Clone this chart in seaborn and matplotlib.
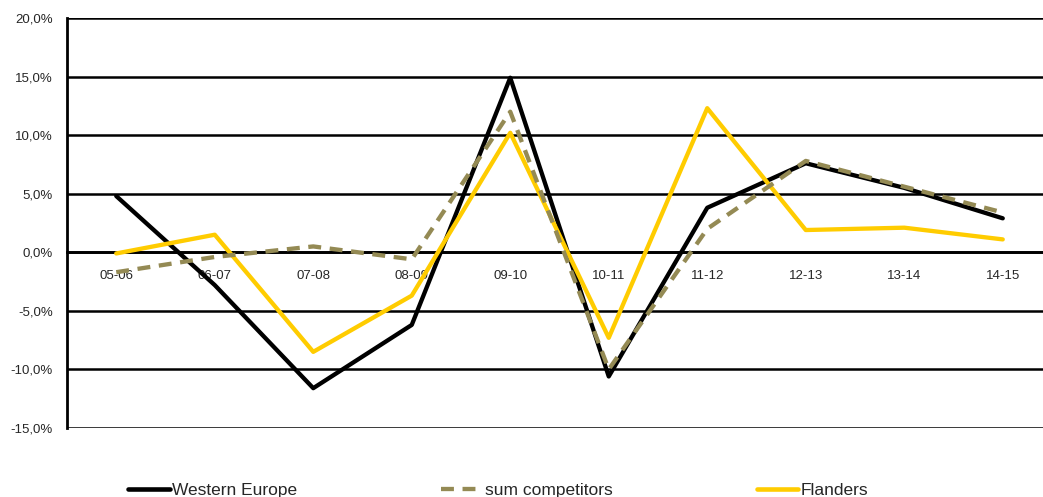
import matplotlib
matplotlib.use("Agg")
import matplotlib.pyplot as plt
import seaborn as sns
import pandas as pd
from matplotlib.ticker import FuncFormatter, MultipleLocator

seasons = ["05-06", "06-07", "07-08", "08-09", "09-10",
           "10-11", "11-12", "12-13", "13-14", "14-15"]
western_europe = [4.8, -2.8, -11.6, -6.2, 14.9, -10.6, 3.8, 7.6, 5.5, 2.9]
sum_competitors = [-1.7, -0.4, 0.5, -0.6, 12.0, -10.0, 2.0, 7.8, 5.6, 3.4]
flanders = [-0.1, 1.5, -8.5, -3.7, 10.2, -7.3, 12.3, 1.9, 2.1, 1.1]

series_names = ["Western Europe", "sum competitors", "Flanders"]
colors = {"Western Europe": "#000000", "sum competitors": "#948A54", "Flanders": "#FFCC00"}
dash_styles = {"Western Europe": "", "sum competitors": (3, 2), "Flanders": ""}

rows = []
for name, vals in zip(series_names, [western_europe, sum_competitors, flanders]):
    for i, (s, v) in enumerate(zip(seasons, vals)):
        rows.append({"idx": i, "season": s, "value": v, "series": name})
df = pd.DataFrame(rows)

sns.set_style("white")
plt.rcParams["font.family"] = ["Liberation Sans", "DejaVu Sans"]

fig = plt.figure(figsize=(10.43, 4.97), dpi=100)
ax = fig.add_axes([67 / 1043, 69 / 497, (1052 - 67) / 1043, (428 - 18) / 497])

# horizontal gridlines in black
for yv in range(-15, 21, 5):
    ax.axhline(yv, color="black", lw=1.8, zorder=1)

sns.lineplot(data=df, x="idx", y="value", hue="series", style="series",
             hue_order=series_names, style_order=series_names,
             palette=colors, dashes=dash_styles, linewidth=3.1,
             ax=ax, legend=False, zorder=3)
# draw the dashed series above the solid ones where they overlap
for line in ax.get_lines():
    if line.get_linestyle() not in ("-",):
        line.set_zorder(4)
        line.set_dash_capstyle("butt")

ax.set_xlim(-0.5, len(seasons) - 0.5)
ax.set_ylim(-15, 20)
ax.yaxis.set_major_locator(MultipleLocator(5))
ax.yaxis.set_major_formatter(FuncFormatter(lambda v, p: f"{v:.1f}%".replace(".", ",")))

ax.spines["top"].set_visible(False)
ax.spines["right"].set_visible(False)
ax.spines["left"].set_linewidth(2)
ax.spines["left"].set_color("black")
ax.spines["bottom"].set_position(("data", 0))
ax.spines["bottom"].set_linewidth(2)
ax.spines["bottom"].set_color("black")

# category labels centred, tick marks between categories
ax.set_xticks(range(len(seasons)))
ax.set_xticklabels(seasons)
ax.set_xticks([i + 0.5 for i in range(len(seasons) - 1)], minor=True)
ax.tick_params(axis="x", which="major", length=0, pad=13, labelsize=9.5)
ax.tick_params(axis="x", which="minor", length=4, width=1.5, color="black", direction="out")
ax.tick_params(axis="y", which="major", length=5, width=1.5, color="black",
               direction="out", labelsize=9.5, pad=5)
ax.set_xlabel("")
ax.set_ylabel("")

handles = [
    plt.Line2D([], [], color=colors["Western Europe"], lw=3.3),
    plt.Line2D([], [], color=colors["sum competitors"], lw=3.1, dashes=(3, 2)),
    plt.Line2D([], [], color=colors["Flanders"], lw=3.3),
]
fig.legend(handles, series_names, loc="lower left", bbox_to_anchor=(121 / 1043, -0.016),
           ncol=3, frameon=False, fontsize=12.5, handlelength=2.4, handletextpad=0.12,
           columnspacing=8.3, borderaxespad=0)

fig.savefig("out.png", dpi=100)
